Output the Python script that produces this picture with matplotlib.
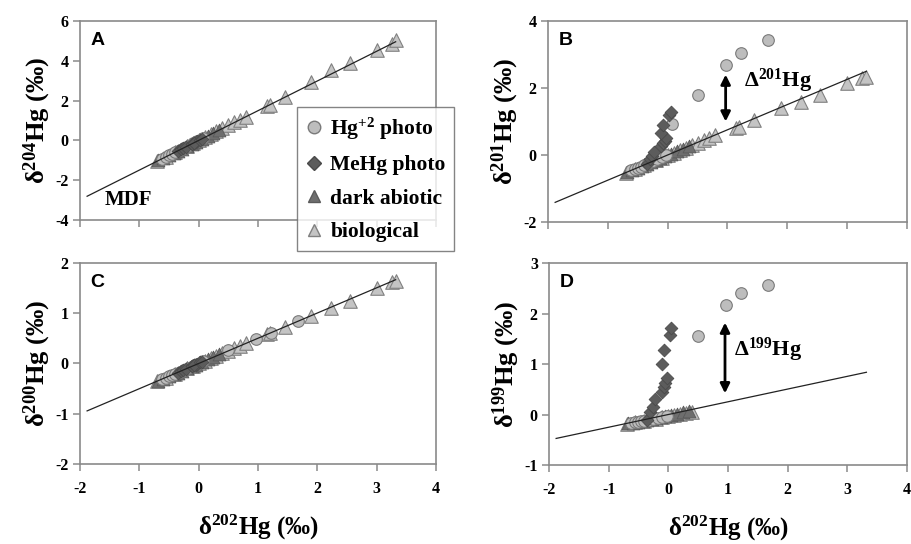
import numpy as np
import matplotlib
matplotlib.use("Agg")
import matplotlib.pyplot as plt
from matplotlib.lines import Line2D

plt.rcParams["font.family"] = ["Liberation Serif", "DejaVu Serif"]
plt.rcParams["font.weight"] = "bold"
plt.rcParams["axes.labelweight"] = "bold"
plt.rcParams["axes.unicode_minus"] = False
plt.rcParams["mathtext.fontset"] = "custom"
plt.rcParams["mathtext.rm"] = "Liberation Serif:bold"
plt.rcParams["mathtext.it"] = "Liberation Serif:bold"
plt.rcParams["mathtext.bf"] = "Liberation Serif:bold"

nan = np.nan

# delta202 (x) and delta values for each panel
hg2_x = [-0.62, -0.55, -0.5, -0.45, -0.4, -0.32, -0.25, -0.18, -0.1, -0.02, 0.08, 0.5, 0.97, 1.22, 1.67]
hg2_d204 = [-0.92, -0.82, -0.75, -0.67, -0.6, -0.48, -0.37, -0.27, -0.15, -0.03, 0.12, nan, nan, nan, nan]
hg2_d201 = [-0.45, -0.42, -0.4, -0.36, -0.3, -0.25, -0.18, -0.12, -0.06, 0.0, 0.92, 1.8, 2.68, 3.05, 3.42]
hg2_d200 = [-0.31, -0.28, -0.25, -0.23, -0.2, -0.16, -0.13, -0.09, -0.05, -0.01, 0.04, 0.26, 0.49, 0.61, 0.84]
hg2_d199 = [-0.16, -0.15, -0.14, -0.13, -0.12, -0.1, -0.08, -0.06, -0.04, -0.02, nan, 1.55, 2.16, 2.4, 2.57]

mehg_x = [-0.35, -0.3, -0.26, -0.22, -0.11, -0.08, -0.05, -0.03, -0.11, -0.08, 0.03, 0.05]
mehg_d204 = [-0.52, -0.45, -0.39, -0.33, -0.16, -0.12, -0.07, -0.04, -0.16, -0.12, 0.04, 0.07]
mehg_d201 = [-0.27, -0.13, -0.04, 0.10, 0.27, 0.36, 0.43, 0.51, 0.67, 0.90, 1.18, 1.29]
mehg_d200 = [-0.18, -0.15, -0.13, -0.11, -0.06, -0.04, -0.03, -0.02, -0.06, -0.04, 0.02, 0.03]
mehg_d199 = [-0.1, 0.05, 0.15, 0.3, 0.45, 0.55, 0.62, 0.72, 1.0, 1.28, 1.58, 1.72]

dark_x = [-0.68, -0.6, -0.5, -0.42, -0.35, -0.28, -0.2, -0.12, -0.05, 0.05, 0.15, 0.25, 0.35]
dark_d204 = [-1.01, -0.89, -0.75, -0.63, -0.52, -0.42, -0.3, -0.18, -0.07, 0.07, 0.22, 0.37, 0.52]
dark_d201 = [-0.51, -0.45, -0.38, -0.32, -0.26, -0.21, -0.15, -0.09, -0.04, 0.04, 0.11, 0.19, 0.26]
dark_d200 = [-0.34, -0.3, -0.25, -0.21, -0.18, -0.14, -0.1, -0.06, -0.03, 0.03, 0.08, 0.13, 0.18]
dark_d199 = [-0.17, -0.16, -0.14, -0.13, -0.11, -0.09, -0.07, -0.05, -0.03, -0.01, 0.02, 0.04, 0.06]

bio_x = [-0.7, -0.55, -0.4, -0.2, -0.1, 0.0, 0.1, 0.2, 0.3, 0.4, 0.5, 0.6, 0.7, 0.8,
         1.15, 1.2, 1.45, 1.9, 2.23, 2.55, 3.0, 3.25, 3.32]
bio_d204 = [-1.05, -0.82, -0.6, -0.3, -0.15, 0.0, 0.15, 0.3, 0.45, 0.6, 0.75, 0.9, 1.05, 1.19,
            1.72, 1.8, 2.2, 2.95, 3.54, 3.87, 4.54, 4.85, 5.05]
bio_d201 = [-0.53, -0.42, -0.3, -0.16, -0.08, 0.0, 0.07, 0.15, 0.22, 0.3, 0.37, 0.45, 0.52, 0.6,
            0.8, 0.85, 1.04, 1.39, 1.59, 1.79, 2.14, 2.3, 2.34]
bio_d200 = [-0.35, -0.28, -0.2, -0.1, -0.05, 0.0, 0.05, 0.1, 0.15, 0.2, 0.25, 0.3, 0.35, 0.4,
            0.58, 0.6, 0.73, 0.95, 1.1, 1.25, 1.5, 1.63, 1.65]
bio_d199 = [-0.18, -0.15, -0.12, -0.08, -0.05, -0.02, 0.0, 0.02, 0.03, 0.04, nan, nan, nan, nan,
            nan, nan, nan, nan, nan, nan, nan, nan, nan]

# MDF reference line (slope vs delta202) drawn over this x span
mdf_x = np.array([-1.88, 3.32])
mdf_slope = {"A": 1.493, "B": 0.752, "C": 0.502, "D": 0.252}

panels = {
    "A": (hg2_d204, mehg_d204, dark_d204, bio_d204, r"δ$^{204}$Hg (‰)", (-4, 6), 2),
    "B": (hg2_d201, mehg_d201, dark_d201, bio_d201, r"δ$^{201}$Hg (‰)", (-2, 4), 2),
    "C": (hg2_d200, mehg_d200, dark_d200, bio_d200, r"δ$^{200}$Hg (‰)", (-2, 2), 1),
    "D": (hg2_d199, mehg_d199, dark_d199, bio_d199, r"δ$^{199}$Hg (‰)", (-1, 3), 1),
}

positions = {
    "A": [0.0878, 0.5956, 0.3908, 0.3658],
    "B": [0.6015, 0.5919, 0.3940, 0.3695],
    "C": [0.0878, 0.1471, 0.3908, 0.3695],
    "D": [0.6026, 0.1452, 0.3930, 0.3713],
}

frame_col = "#8a8a8a"
circ_style = dict(marker="o", s=70, facecolor="#bdbdbd", edgecolor="#7a7a7a", linewidths=0.8)
diam_style = dict(marker="D", s=42, facecolor="#5c5c5c", edgecolor="#4a4a4a", linewidths=0.6)
dark_style = dict(marker="^", s=85, facecolor="#6e6e6e", edgecolor="#5a5a5a", linewidths=0.6)
bio_style = dict(marker="^", s=95, facecolor="#c4c4c4", edgecolor="#808080", linewidths=0.8)

fig = plt.figure(figsize=(9.11, 5.44), dpi=100)

for key, (hg2, mehg, dark, bio, ylab, ylim, ystep) in panels.items():
    ax = fig.add_axes(positions[key])
    ax.scatter(bio_x, bio, zorder=2, **bio_style)
    ax.scatter(dark_x, dark, zorder=3, **dark_style)
    ax.scatter(hg2_x, hg2, zorder=4, **circ_style)
    ax.scatter(mehg_x, mehg, zorder=5, **diam_style)
    ax.plot(mdf_x, mdf_slope[key] * mdf_x, color="#222222", lw=0.9, zorder=6)

    ax.set_xlim(-2, 4)
    ax.set_ylim(*ylim)
    xt = np.arange(-2, 5, 1)
    yt = np.arange(ylim[0], ylim[1] + ystep, ystep)
    ax.set_xticks(xt)
    ax.set_yticks(yt)
    ax.set_yticklabels([str(v) for v in yt], fontweight="bold")
    if key in ("C", "D"):
        ax.set_xticklabels([str(v) for v in xt], fontweight="bold")
        ax.set_xlabel(r"δ$^{202}$Hg (‰)", fontsize=18, labelpad=12)
    else:
        ax.tick_params(axis="x", labelbottom=False)
    for s in ax.spines.values():
        s.set_color(frame_col)
        s.set_linewidth(1.2)
    ax.tick_params(direction="out", length=5, width=1.1, color=frame_col,
                   labelsize=11.5, pad=3)
    ax.tick_params(axis="x", pad=7)
    ax.set_ylabel(ylab, fontsize=19, labelpad=2)
    ax.text(0.03, 0.945, key, transform=ax.transAxes, fontsize=14,
            fontfamily="Liberation Sans", fontweight="bold", va="top", ha="left")

    if key == "A":
        ax.text(-1.58, -3.02, "MDF", fontsize=15, va="center", ha="left")
    if key == "B":
        ax.annotate("", xy=(0.97, 1.0), xytext=(0.97, 2.4),
                    arrowprops=dict(arrowstyle="<|-|>", color="black", lw=2,
                                    mutation_scale=14, shrinkA=0, shrinkB=0))
        ax.text(1.27, 2.22, r"Δ$^{201}$Hg", fontsize=16, va="center", ha="left")
    if key == "D":
        ax.annotate("", xy=(0.95, 0.42), xytext=(0.95, 1.82),
                    arrowprops=dict(arrowstyle="<|-|>", color="black", lw=2,
                                    mutation_scale=14, shrinkA=0, shrinkB=0))
        ax.text(1.1, 1.28, r"Δ$^{199}$Hg", fontsize=16, va="center", ha="left")

handles = [
    Line2D([], [], ls="none", marker="o", markersize=9, markerfacecolor="#bdbdbd",
           markeredgecolor="#7a7a7a"),
    Line2D([], [], ls="none", marker="D", markersize=7, markerfacecolor="#5c5c5c",
           markeredgecolor="#4a4a4a"),
    Line2D([], [], ls="none", marker="^", markersize=9, markerfacecolor="#6e6e6e",
           markeredgecolor="#5a5a5a"),
    Line2D([], [], ls="none", marker="^", markersize=9, markerfacecolor="#c4c4c4",
           markeredgecolor="#808080"),
]
labels = [r"Hg$^{+2}$ photo", "MeHg photo", "dark abiotic", "biological"]
leg = fig.legend(handles, labels, loc="upper left", bbox_to_anchor=(297 / 911, 1 - 107 / 544),
                 fontsize=15.5, frameon=True, fancybox=False, handlelength=0.8,
                 handletextpad=0.35, labelspacing=0.62, borderpad=0.4, borderaxespad=0)
leg.get_frame().set_edgecolor("#666666")
leg.get_frame().set_linewidth(1.0)
leg.set_zorder(20)

fig.savefig("out.png", dpi=100)
